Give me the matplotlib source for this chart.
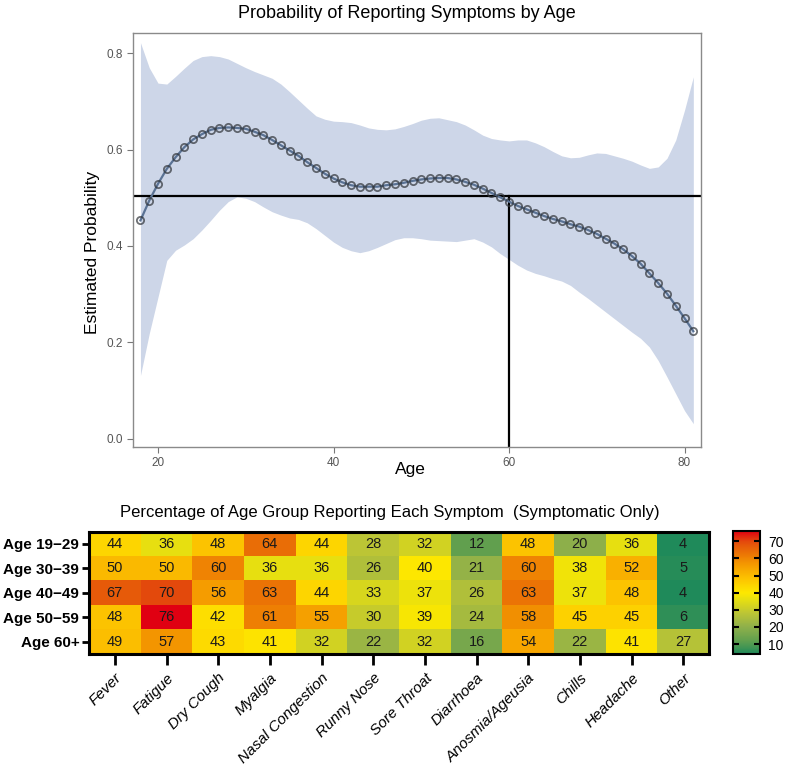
import numpy as np
import matplotlib
matplotlib.use('Agg')
import matplotlib.pyplot as plt
from matplotlib.colors import LinearSegmentedColormap, Normalize

plt.rcParams['font.family'] = ['Liberation Sans', 'DejaVu Sans']

# --- top panel data ---
ages = np.arange(18, 82)
prob = [0.453, 0.494, 0.529, 0.560, 0.584, 0.605, 0.621, 0.632, 0.641, 0.645,
        0.646, 0.645, 0.643, 0.637, 0.630, 0.620, 0.609, 0.598, 0.587, 0.574,
        0.562, 0.550, 0.540, 0.532, 0.526, 0.523, 0.523, 0.523, 0.526, 0.528,
        0.531, 0.535, 0.538, 0.540, 0.541, 0.541, 0.538, 0.533, 0.527, 0.519,
        0.510, 0.501, 0.492, 0.483, 0.476, 0.469, 0.462, 0.456, 0.451, 0.445,
        0.440, 0.433, 0.425, 0.415, 0.405, 0.393, 0.379, 0.363, 0.343, 0.323,
        0.301, 0.276, 0.250, 0.223]
upper = [0.822, 0.770, 0.738, 0.736, 0.752, 0.769, 0.785, 0.793, 0.795, 0.793,
         0.788, 0.779, 0.770, 0.762, 0.755, 0.748, 0.736, 0.720, 0.703, 0.686,
         0.670, 0.663, 0.659, 0.658, 0.656, 0.651, 0.645, 0.642, 0.641, 0.643,
         0.648, 0.654, 0.661, 0.665, 0.666, 0.662, 0.658, 0.651, 0.641, 0.630,
         0.623, 0.620, 0.618, 0.620, 0.620, 0.614, 0.606, 0.596, 0.587, 0.583,
         0.584, 0.589, 0.593, 0.592, 0.587, 0.582, 0.576, 0.568, 0.561, 0.564,
         0.582, 0.620, 0.682, 0.751]
lower = [0.131, 0.218, 0.294, 0.370, 0.391, 0.402, 0.415, 0.433, 0.453, 0.474,
         0.492, 0.502, 0.499, 0.492, 0.481, 0.471, 0.464, 0.458, 0.455, 0.448,
         0.436, 0.422, 0.408, 0.397, 0.390, 0.386, 0.390, 0.397, 0.405, 0.413,
         0.417, 0.417, 0.415, 0.412, 0.411, 0.410, 0.409, 0.412, 0.415, 0.408,
         0.398, 0.384, 0.372, 0.360, 0.350, 0.343, 0.338, 0.332, 0.327, 0.318,
         0.304, 0.291, 0.277, 0.263, 0.249, 0.235, 0.221, 0.208, 0.190, 0.162,
         0.128, 0.093, 0.058, 0.031]
ref_prob = 0.504
ref_age = 60

# --- heatmap data ---
age_groups = ['Age 19\u221229', 'Age 30\u221239', 'Age 40\u221249', 'Age 50\u221259', 'Age 60+']
symptoms = ['Fever', 'Fatigue', 'Dry Cough', 'Myalgia', 'Nasal Congestion', 'Runny Nose',
            'Sore Throat', 'Diarrhoea', 'Anosmia/Ageusia', 'Chills', 'Headache', 'Other']
pct = np.array([
    [44, 36, 48, 64, 44, 28, 32, 12, 48, 20, 36, 4],
    [50, 50, 60, 36, 36, 26, 40, 21, 60, 38, 52, 5],
    [67, 70, 56, 63, 44, 33, 37, 26, 63, 37, 48, 4],
    [48, 76, 42, 61, 55, 30, 39, 24, 58, 45, 45, 6],
    [49, 57, 43, 41, 32, 22, 32, 16, 54, 22, 41, 27],
])
cbar_ticks = [10, 20, 30, 40, 50, 60, 70]

fig = plt.figure(figsize=(7.87, 7.66), dpi=100)

# ---------------- top: probability by age ----------------
ax = fig.add_axes([0.169, 0.4164, 0.722, 0.5405])
ax.fill_between(ages, lower, upper, color='#cdd6e8', lw=0, zorder=1)
ax.plot(ages, prob, color='#5a7294', lw=1.6, zorder=3)
ax.plot(ages, prob, ls='none', marker='o', ms=5.2, mfc='none',
        mec='#2f3338', mew=1.3, alpha=0.7, zorder=4)
ax.axhline(ref_prob, color='black', lw=1.6, zorder=2)
ax.plot([ref_age, ref_age], [-0.0175, ref_prob], color='black', lw=1.6, zorder=2)

ax.set_xlim(17.15, 81.9)
ax.set_ylim(-0.0175, 0.842)
ax.set_xticks([20, 40, 60, 80])
ax.set_yticks([0.0, 0.2, 0.4, 0.6, 0.8])
ax.set_yticklabels(['0.0', '0.2', '0.4', '0.6', '0.8'])
ax.tick_params(colors='#777777', labelcolor='#555555', labelsize=8.5, length=4, width=0.8)
for s in ax.spines.values():
    s.set_color('#8a8a8a')
    s.set_linewidth(1.0)
ax.set_ylabel('Estimated Probability', fontsize=12.5)
ax.yaxis.set_label_coords(-0.058, 0.47)
ax.set_xlabel('Age', fontsize=12.5)
ax.xaxis.set_label_coords(0.489, -0.035)
fig.text(0.517, 0.983, 'Probability of Reporting Symptoms by Age', fontsize=13,
         ha='center', va='center')

# ---------------- bottom: heatmap ----------------
stops_v = [4, 12, 20, 28, 36, 40, 48, 56, 64, 70, 76]
stops_c = ['#1f8a5a', '#62a04e', '#8fb04a', '#bcc535', '#e8e010', '#fde800',
           '#fdc400', '#f59c00', '#ea6e06', '#e44a0c', '#e00012']
vmin, vmax = 4, 76
cmap = LinearSegmentedColormap.from_list(
    'sym', [((v - vmin) / (vmax - vmin), c) for v, c in zip(stops_v, stops_c)])
norm = Normalize(vmin=vmin, vmax=vmax)

hx = fig.add_axes([0.1131, 0.1462, 0.7878, 0.1597])
im = hx.imshow(pct, cmap=cmap, norm=norm, aspect='auto', interpolation='nearest')
for i in range(pct.shape[0]):
    for j in range(pct.shape[1]):
        hx.text(j, i, str(pct[i, j]), ha='center', va='center', fontsize=10.5, color='#1a1a1a')
hx.set_xticks(range(len(symptoms)))
hx.set_xticklabels(symptoms, rotation=45, ha='right', va='top',
                   rotation_mode='anchor', fontsize=11, style='italic')
hx.set_yticks(range(len(age_groups)))
hx.set_yticklabels(age_groups, fontsize=11, fontweight='bold')
hx.tick_params(axis='x', length=8, width=2, pad=4)
hx.tick_params(axis='y', length=5, width=2, pad=2)
for s in hx.spines.values():
    s.set_linewidth(2.2)
    s.set_color('black')
fig.text(0.4956, 0.3303,
         'Percentage of Age Group Reporting Each Symptom  (Symptomatic Only)',
         fontsize=12, ha='center', va='center')

cax = fig.add_axes([0.932, 0.1458, 0.0337, 0.161])
cb = fig.colorbar(im, cax=cax, ticks=cbar_ticks)
cb.outline.set_linewidth(1.5)
cax.tick_params(direction='in', length=4, width=1.5, labelsize=10, pad=6,
                left=True, right=True)

fig.savefig('out.png', dpi=100)
